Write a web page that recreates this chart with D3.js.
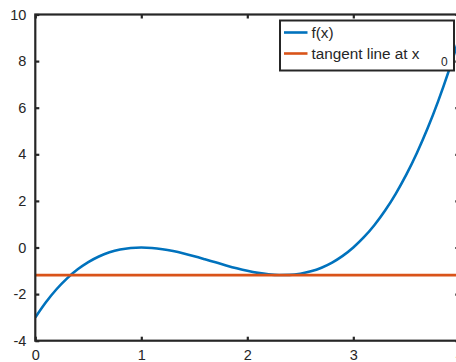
<!DOCTYPE html>
<html><head><meta charset="utf-8">
<script src="https://cdn.jsdelivr.net/npm/d3@7"></script>
<style>body{margin:0;background:#fff;overflow:hidden}svg{display:block}text{font-family:"Liberation Sans",Arial,sans-serif;fill:#262626}</style>
</head><body>
<script>
const xValues = [0,0.1,0.2,0.3,0.4,0.5,0.6,0.7,0.8,0.9,1.0,1.1,1.2,1.3,1.4,1.5,1.6,1.7,1.8,1.9,2.0,2.1,2.2,2.3,2.4,2.5,2.6,2.7,2.8,2.9,3.0,3.1,3.2,3.3,3.4,3.5,3.6,3.7,3.8,3.9,4.0];
const fValues = [-3,-2.349,-1.792,-1.323,-0.936,-0.625,-0.384,-0.207,-0.088,-0.021,0,-0.019,-0.072,-0.153,-0.256,-0.375,-0.504,-0.637,-0.768,-0.891,-1,-1.089,-1.152,-1.183,-1.176,-1.125,-1.024,-0.867,-0.648,-0.361,0,0.441,0.968,1.587,2.304,3.125,4.056,5.103,6.272,7.569,9];
const tangentX = [0,4];
const tangentY = [-1.185,-1.185];
const xTicks = [0,1,2,3,4];
const yTicks = [-4,-2,0,2,4,6,8,10];
const seriesNames = ["f(x)","tangent line at x"];

(function(){
const W=456,H=362;
const svg=d3.select("body").append("svg").attr("width",W).attr("height",H);
const L=35.3,R=459.3,T=14.5,B=340.7;
const x=d3.scaleLinear().domain([0,4]).range([L,R]);
const y=d3.scaleLinear().domain([-4,10]).range([B,T]);
const dark="#262626";

svg.append("clipPath").attr("id","pc").append("rect").attr("x",L).attr("y",T).attr("width",R-L).attr("height",B-T);
const plot=svg.append("g").attr("clip-path","url(#pc)");
const line=d3.line().x(d=>x(d[0])).y(d=>y(d[1])).curve(d3.curveMonotoneX);
plot.append("path").datum(xValues.map((v,i)=>[v,fValues[i]])).attr("d",line).attr("fill","none").attr("stroke","#0072BD").attr("stroke-width",2.6);
plot.append("path").datum(tangentX.map((v,i)=>[v,tangentY[i]])).attr("d",d3.line().x(d=>x(d[0])).y(d=>y(d[1]))).attr("fill","none").attr("stroke","#D95319").attr("stroke-width",2.6);

const fmt=d=>String(d);
const ax=svg.append("g");
ax.append("g").attr("transform",`translate(0,${B})`).call(d3.axisBottom(x).tickValues(xTicks).tickSize(-4).tickPadding(9).tickFormat(fmt));
ax.append("g").attr("transform",`translate(${L},0)`).call(d3.axisLeft(y).tickValues(yTicks).tickSize(-4).tickPadding(9).tickFormat(fmt));
ax.append("g").attr("transform",`translate(0,${T})`).call(d3.axisTop(x).tickValues(xTicks).tickSize(-4).tickFormat(""));
ax.append("g").attr("transform",`translate(${R},0)`).call(d3.axisRight(y).tickValues(yTicks).tickSize(-4).tickFormat(""));
ax.selectAll(".tick line").attr("stroke",dark).attr("stroke-width",2.2);
ax.selectAll(".tick text").style("font-size","14.5px").attr("fill",dark);
ax.selectAll(".domain").remove();
svg.append("rect").attr("x",L).attr("y",T).attr("width",R-L).attr("height",B-T).attr("fill","none").attr("stroke",dark).attr("stroke-width",2.2);

const lg=svg.append("g");
lg.append("rect").attr("x",280).attr("y",20.5).attr("width",174).attr("height",50).attr("fill","#fff").attr("stroke",dark).attr("stroke-width",2);
const colors=["#0072BD","#D95319"];
const ly=[32.5,53.5];
seriesNames.forEach((n,i)=>{
  lg.append("line").attr("x1",284).attr("x2",307.5).attr("y1",ly[i]).attr("y2",ly[i]).attr("stroke",colors[i]).attr("stroke-width",2.6);
  lg.append("text").attr("x",311.5).attr("y",ly[i]+5).style("font-size","15.3px").text(n);
});
lg.append("text").attr("x",441).attr("y",65.5).style("font-size","12px").text("0");
})();
</script>
</body></html>
